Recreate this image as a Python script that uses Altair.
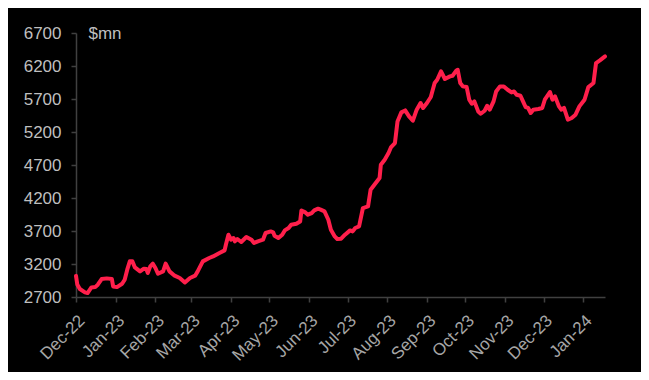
import altair as alt
import pandas as pd

dates = [
    "2022-12-01", "2022-12-02", "2022-12-04", "2022-12-08", "2022-12-10", "2022-12-13",
    "2022-12-16", "2022-12-18", "2022-12-21", "2022-12-25", "2022-12-29", "2022-12-30",
    "2023-01-02", "2023-01-06", "2023-01-08", "2023-01-10", "2023-01-12", "2023-01-14",
    "2023-01-16", "2023-01-20", "2023-01-23", "2023-01-25", "2023-01-26", "2023-01-28",
    "2023-01-30", "2023-02-01", "2023-02-03", "2023-02-07", "2023-02-09", "2023-02-12",
    "2023-02-16", "2023-02-20", "2023-02-24", "2023-02-28", "2023-03-04", "2023-03-06",
    "2023-03-10", "2023-03-15", "2023-03-18", "2023-03-23", "2023-03-27", "2023-03-28",
    "2023-03-30", "2023-04-01", "2023-04-03", "2023-04-04", "2023-04-06", "2023-04-09",
    "2023-04-13", "2023-04-17", "2023-04-19", "2023-04-22", "2023-04-26", "2023-04-28",
    "2023-05-02", "2023-05-04", "2023-05-05", "2023-05-08", "2023-05-11", "2023-05-13",
    "2023-05-16", "2023-05-18", "2023-05-22", "2023-05-25", "2023-05-26", "2023-05-29",
    "2023-05-31", "2023-06-03", "2023-06-05", "2023-06-08", "2023-06-10", "2023-06-13",
    "2023-06-16", "2023-06-18", "2023-06-21", "2023-06-23", "2023-06-26", "2023-06-29",
    "2023-07-03", "2023-07-05", "2023-07-07", "2023-07-10", "2023-07-13", "2023-07-17",
    "2023-07-19", "2023-07-23", "2023-07-26", "2023-07-27", "2023-07-30", "2023-08-02",
    "2023-08-04", "2023-08-07", "2023-08-09", "2023-08-12", "2023-08-15", "2023-08-18",
    "2023-08-21", "2023-08-24", "2023-08-27", "2023-08-29", "2023-09-01", "2023-09-04",
    "2023-09-07", "2023-09-09", "2023-09-12", "2023-09-15", "2023-09-19", "2023-09-21",
    "2023-09-24", "2023-09-25", "2023-09-27", "2023-09-29", "2023-10-02", "2023-10-04",
    "2023-10-06", "2023-10-08", "2023-10-11", "2023-10-13", "2023-10-16", "2023-10-18",
    "2023-10-20", "2023-10-23", "2023-10-25", "2023-10-28", "2023-10-31", "2023-11-03",
    "2023-11-06", "2023-11-08", "2023-11-10", "2023-11-13", "2023-11-15", "2023-11-17",
    "2023-11-19", "2023-11-21", "2023-11-23", "2023-11-27", "2023-11-30", "2023-12-02",
    "2023-12-06", "2023-12-08", "2023-12-10", "2023-12-13", "2023-12-15", "2023-12-17",
    "2023-12-20", "2023-12-23", "2023-12-26", "2023-12-29", "2024-01-02", "2024-01-05",
    "2024-01-09", "2024-01-11", "2024-01-14", "2024-01-18",
]

values = [
    3020, 2890, 2821, 2770, 2760, 2845,
    2850, 2886, 2972, 2982, 2972, 2860,
    2850, 2900, 2962, 3114, 3240, 3240,
    3148, 3088, 3129, 3124, 3064, 3164,
    3205, 3140, 3053, 3088, 3205, 3088,
    3023, 2988, 2921, 2988, 3023, 3088,
    3240, 3291, 3315, 3367, 3406, 3492,
    3644, 3568, 3594, 3543, 3579, 3533,
    3609, 3568, 3518, 3543, 3568, 3670,
    3694, 3679, 3629, 3594, 3644, 3709,
    3745, 3795, 3810, 3845, 4012, 3982,
    3947, 3972, 4012, 4038, 4023, 3997,
    3871, 3720, 3618, 3579, 3583, 3644,
    3709, 3694, 3745, 3770, 4048, 4073,
    4326, 4427, 4503, 4704, 4780, 4881,
    4972, 5033, 5360, 5497, 5527, 5436,
    5371, 5538, 5639, 5564, 5639, 5730,
    5942, 5992, 6118, 6003, 6043, 6053,
    6133, 6143, 5942, 5891, 5881, 5689,
    5628, 5664, 5512, 5477, 5522, 5598,
    5538, 5664, 5815, 5891, 5891, 5840,
    5800, 5815, 5765, 5750, 5664, 5578,
    5564, 5488, 5538, 5548, 5564, 5689,
    5806, 5689, 5740, 5588, 5538, 5564,
    5386, 5412, 5462, 5588, 5689, 5881,
    5942, 6245, 6285, 6345,
]

month_ticks = [
    "2022-12-01", "2023-01-01", "2023-02-01", "2023-03-01", "2023-04-01",
    "2023-05-01", "2023-06-01", "2023-07-01", "2023-08-01", "2023-09-01",
    "2023-10-01", "2023-11-01", "2023-12-01", "2024-01-01",
]
y_ticks = [2700, 3200, 3700, 4200, 4700, 5200, 5700, 6200, 6700]
x_domain = ["2022-12-01", "2024-01-18"]
unit_label = "$mn"

df = pd.DataFrame({"date": dates, "value": values})

tick_dt = [alt.DateTime(year=int(d[:4]), month=int(d[5:7]), date=int(d[8:10])) for d in month_ticks]
dom_dt = [alt.DateTime(year=int(d[:4]), month=int(d[5:7]), date=int(d[8:10])) for d in x_domain]

FONT = "Liberation Sans"

chart = (
    alt.Chart(df)
    .mark_line(color="#FF1F4B", strokeWidth=4, strokeJoin="round", strokeCap="round")
    .encode(
        x=alt.X(
            "date:T",
            scale=alt.Scale(domain=dom_dt, nice=False),
            axis=alt.Axis(
                title=None,
                values=tick_dt,
                format="%b-%y",
                labelAngle=-45,
                labelAlign="right",
                labelBaseline="top",
                labelFont=FONT,
                labelFontSize=17,
                labelColor="#A6A6A6",
                labelPadding=10,
                labelOverlap=False,
                labelFlush=False,
                domainColor="#404040",
                domainWidth=1.5,
                tickColor="#404040",
                tickWidth=1.5,
                tickSize=5,
                grid=False,
            ),
        ),
        y=alt.Y(
            "value:Q",
            scale=alt.Scale(domain=[2700, 6700], nice=False, zero=False),
            axis=alt.Axis(
                title=unit_label,
                titleAngle=0,
                titleAlign="left",
                titleBaseline="middle",
                titleX=12,
                titleY=0,
                titleFont=FONT,
                titleFontSize=17,
                titleFontWeight="normal",
                titleColor="#BFBFBF",
                values=y_ticks,
                format="d",
                labelFont=FONT,
                labelFontSize=17,
                labelColor="#BFBFBF",
                labelPadding=10,
                domainColor="#404040",
                domainWidth=1.5,
                tickColor="#404040",
                tickWidth=1.5,
                tickSize=5,
                grid=False,
            ),
        ),
    )
    .properties(
        width=529,
        height=264,
        background="black",
        autosize=alt.AutoSizeParams(type="none"),
        padding={"left": 68, "top": 25, "right": 36, "bottom": 75},
    )
    .configure_view(stroke=None)
)

chart.save("out.html", embed_options={"renderer": "svg", "actions": False})
